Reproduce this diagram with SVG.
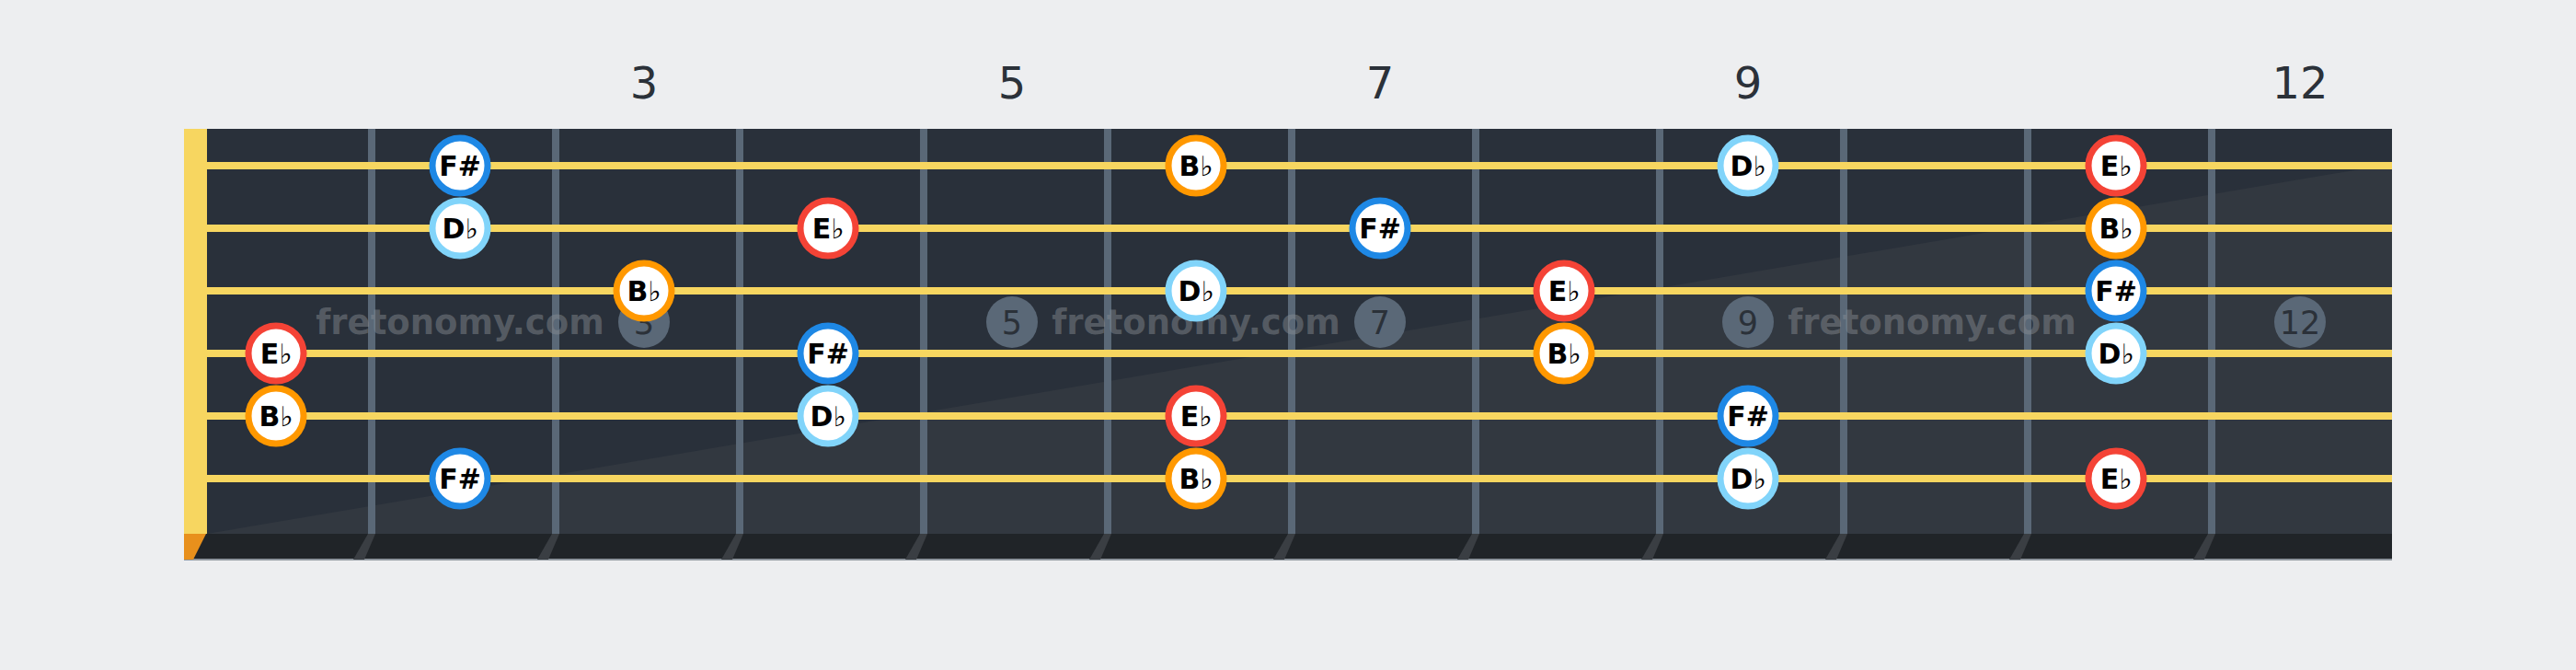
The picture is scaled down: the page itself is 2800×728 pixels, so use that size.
<svg xmlns="http://www.w3.org/2000/svg" width="2800" height="728" viewBox="0 0 2800 728">
<style>
.bg{fill:#EDEEF0}
.board{fill:#29303A}
.shade{fill:#323840}
.fret{fill:#5A6877}
.str{fill:#F7D660}
.fshadow{fill:#3A3E43}
.fnum{font-family:"DejaVu Sans",sans-serif;font-size:48px;fill:#2B3139;text-anchor:middle}
.mk{fill:#5A6877}
.mkt{font-family:"DejaVu Sans",sans-serif;font-size:35px;fill:#2B3139;text-anchor:middle}
.wm{font-family:"DejaVu Sans",sans-serif;font-weight:bold;font-size:37px;fill:#8C9096;fill-opacity:0.45;text-anchor:middle}
.note circle{fill:#FFFFFF;stroke-width:7}
.note text{font-family:"DejaVu Sans",sans-serif;font-weight:bold;font-size:30px;fill:#000000;text-anchor:middle}
.note text tspan{font-weight:normal}
.eb circle{stroke:#F44336}
.bb circle{stroke:#FF9800}
.fs circle{stroke:#1E88E5}
.db circle{stroke:#81D4FA}
</style>
<rect class="bg" x="0" y="0" width="2800" height="728"/>
<g id="fret-numbers">
<text class="fnum" x="700" y="107">3</text>
<text class="fnum" x="1100" y="107">5</text>
<text class="fnum" x="1500" y="107">7</text>
<text class="fnum" x="1900" y="107">9</text>
<text class="fnum" x="2500" y="107">12</text>
</g>
<g id="fretboard">
<rect class="board" x="200" y="140" width="2400" height="440"/>
<polygon class="shade" points="225,580 2600,580 2600,178"/>
<rect x="200" y="580" width="2400" height="28" fill="#202428"/>
<rect x="200" y="607" width="2400" height="2" fill="#8E959D"/>
<polygon points="200,580 224,580 210,608 200,608" fill="#E8901C"/>
<rect x="200" y="140" width="25" height="440" fill="#F7D660"/>
<g id="frets">
<rect class="fret" x="400" y="140" width="8" height="440"/>
<rect class="fret" x="600" y="140" width="8" height="440"/>
<rect class="fret" x="800" y="140" width="8" height="440"/>
<rect class="fret" x="1000" y="140" width="8" height="440"/>
<rect class="fret" x="1200" y="140" width="8" height="440"/>
<rect class="fret" x="1400" y="140" width="8" height="440"/>
<rect class="fret" x="1600" y="140" width="8" height="440"/>
<rect class="fret" x="1800" y="140" width="8" height="440"/>
<rect class="fret" x="2000" y="140" width="8" height="440"/>
<rect class="fret" x="2200" y="140" width="8" height="440"/>
<rect class="fret" x="2400" y="140" width="8" height="440"/>
<polygon class="fshadow" points="400,580 408,580 396,608 384,608"/>
<polygon class="fshadow" points="600,580 608,580 596,608 584,608"/>
<polygon class="fshadow" points="800,580 808,580 796,608 784,608"/>
<polygon class="fshadow" points="1000,580 1008,580 996,608 984,608"/>
<polygon class="fshadow" points="1200,580 1208,580 1196,608 1184,608"/>
<polygon class="fshadow" points="1400,580 1408,580 1396,608 1384,608"/>
<polygon class="fshadow" points="1600,580 1608,580 1596,608 1584,608"/>
<polygon class="fshadow" points="1800,580 1808,580 1796,608 1784,608"/>
<polygon class="fshadow" points="2000,580 2008,580 1996,608 1984,608"/>
<polygon class="fshadow" points="2200,580 2208,580 2196,608 2184,608"/>
<polygon class="fshadow" points="2400,580 2408,580 2396,608 2384,608"/>
</g>
<g id="markers">
<circle class="mk" cx="700" cy="350" r="28"/><text class="mkt" x="700" y="363">3</text>
<circle class="mk" cx="1100" cy="350" r="28"/><text class="mkt" x="1100" y="363">5</text>
<circle class="mk" cx="1500" cy="350" r="28"/><text class="mkt" x="1500" y="363">7</text>
<circle class="mk" cx="1900" cy="350" r="28"/><text class="mkt" x="1900" y="363">9</text>
<circle class="mk" cx="2500" cy="350" r="28"/><text class="mkt" x="2500" y="363">12</text>
</g>
<g id="watermarks">
<text class="wm" x="500" y="363">fretonomy.com</text>
<text class="wm" x="1300" y="363">fretonomy.com</text>
<text class="wm" x="2100" y="363">fretonomy.com</text>
</g>
<g id="strings">
<rect class="str" x="225" y="176" width="2375" height="8"/>
<rect class="str" x="225" y="244" width="2375" height="8"/>
<rect class="str" x="225" y="312" width="2375" height="8"/>
<rect class="str" x="225" y="380" width="2375" height="8"/>
<rect class="str" x="225" y="448" width="2375" height="8"/>
<rect class="str" x="225" y="516" width="2375" height="8"/>
</g>
</g>
<g id="notes">
<g id="n1-2" class="note fs"><circle cx="500" cy="180" r="30"/><text x="500" y="191">F#</text></g>
<g id="n1-6" class="note bb"><circle cx="1300" cy="180" r="30"/><text x="1300" y="191">B<tspan>♭</tspan></text></g>
<g id="n1-9" class="note db"><circle cx="1900" cy="180" r="30"/><text x="1900" y="191">D<tspan>♭</tspan></text></g>
<g id="n1-11" class="note eb"><circle cx="2300" cy="180" r="30"/><text x="2300" y="191">E<tspan>♭</tspan></text></g>
<g id="n2-2" class="note db"><circle cx="500" cy="248" r="30"/><text x="500" y="259">D<tspan>♭</tspan></text></g>
<g id="n2-4" class="note eb"><circle cx="900" cy="248" r="30"/><text x="900" y="259">E<tspan>♭</tspan></text></g>
<g id="n2-7" class="note fs"><circle cx="1500" cy="248" r="30"/><text x="1500" y="259">F#</text></g>
<g id="n2-11" class="note bb"><circle cx="2300" cy="248" r="30"/><text x="2300" y="259">B<tspan>♭</tspan></text></g>
<g id="n3-3" class="note bb"><circle cx="700" cy="316" r="30"/><text x="700" y="327">B<tspan>♭</tspan></text></g>
<g id="n3-6" class="note db"><circle cx="1300" cy="316" r="30"/><text x="1300" y="327">D<tspan>♭</tspan></text></g>
<g id="n3-8" class="note eb"><circle cx="1700" cy="316" r="30"/><text x="1700" y="327">E<tspan>♭</tspan></text></g>
<g id="n3-11" class="note fs"><circle cx="2300" cy="316" r="30"/><text x="2300" y="327">F#</text></g>
<g id="n4-1" class="note eb"><circle cx="300" cy="384" r="30"/><text x="300" y="395">E<tspan>♭</tspan></text></g>
<g id="n4-4" class="note fs"><circle cx="900" cy="384" r="30"/><text x="900" y="395">F#</text></g>
<g id="n4-8" class="note bb"><circle cx="1700" cy="384" r="30"/><text x="1700" y="395">B<tspan>♭</tspan></text></g>
<g id="n4-11" class="note db"><circle cx="2300" cy="384" r="30"/><text x="2300" y="395">D<tspan>♭</tspan></text></g>
<g id="n5-1" class="note bb"><circle cx="300" cy="452" r="30"/><text x="300" y="463">B<tspan>♭</tspan></text></g>
<g id="n5-4" class="note db"><circle cx="900" cy="452" r="30"/><text x="900" y="463">D<tspan>♭</tspan></text></g>
<g id="n5-6" class="note eb"><circle cx="1300" cy="452" r="30"/><text x="1300" y="463">E<tspan>♭</tspan></text></g>
<g id="n5-9" class="note fs"><circle cx="1900" cy="452" r="30"/><text x="1900" y="463">F#</text></g>
<g id="n6-2" class="note fs"><circle cx="500" cy="520" r="30"/><text x="500" y="531">F#</text></g>
<g id="n6-6" class="note bb"><circle cx="1300" cy="520" r="30"/><text x="1300" y="531">B<tspan>♭</tspan></text></g>
<g id="n6-9" class="note db"><circle cx="1900" cy="520" r="30"/><text x="1900" y="531">D<tspan>♭</tspan></text></g>
<g id="n6-11" class="note eb"><circle cx="2300" cy="520" r="30"/><text x="2300" y="531">E<tspan>♭</tspan></text></g>
</g>
</svg>
